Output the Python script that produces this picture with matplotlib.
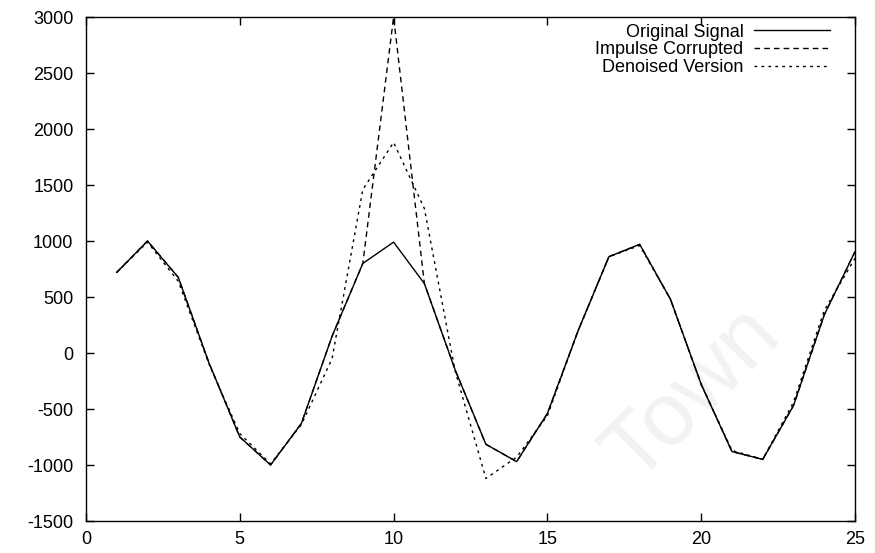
import numpy as np
import matplotlib
matplotlib.use('Agg')
import matplotlib.pyplot as plt

plt.rcParams['font.family'] = ['Liberation Sans', 'DejaVu Sans']
plt.rcParams['axes.unicode_minus'] = False

# samples 1..25
n = list(range(1, 26))
original = [720, 1000, 675, -90, -750, -1000, -630, 150, 800, 990, 620, -150,
            -815, -970, -540, 200, 860, 970, 480, -280, -880, -950, -470, 340, 905]
corrupted = [720, 1000, 675, -90, -750, -1000, -630, 150, 800, 3000, 620, -150,
             -815, -970, -540, 200, 860, 970, 480, -280, -880, -950, -470, 340, 905]
denoised = [720, 990, 640, -100, -720, -990, -640, -50, 1460, 1880, 1290, -160,
            -1120, -930, -560, 200, 860, 960, 480, -280, -870, -950, -440, 380, 845]

XTICKS = [0, 5, 10, 15, 20, 25]
YTICKS = [-1500, -1000, -500, 0, 500, 1000, 1500, 2000, 2500, 3000]

fig = plt.figure(figsize=(8.75, 5.53), dpi=100)
ax = fig.add_axes([86 / 875, 1 - 521 / 553, (855 - 86) / 875, (521 - 17) / 553])

ax.plot(n, original, color='black', lw=1.0, label='Original Signal')
ax.plot(n, corrupted, color='black', lw=1.0, ls=(0, (4, 3)), label='Impulse Corrupted')
ax.plot(n, denoised, color='black', lw=1.0, ls=(0, (2, 3)), label='Denoised Version')

ax.set_xlim(0, 25)
ax.set_ylim(-1500, 3000)
ax.set_xticks(XTICKS)
ax.set_yticks(YTICKS)
ax.tick_params(direction='in', length=6, width=1, top=True, right=True,
               labelsize=13)
ax.tick_params(axis='y', pad=9)
ax.tick_params(axis='x', pad=7)
for s in ax.spines.values():
    s.set_linewidth(1.0)

ax.legend(loc='upper right', frameon=False, markerfirst=False, fontsize=13,
          handlelength=4.2, handletextpad=0.6, labelspacing=0.05,
          borderaxespad=0.3, bbox_to_anchor=(0.984, 1.012))

# faint scan watermark
ax.text(0.79, 0.25, 'Town', transform=ax.transAxes, fontsize=64,
        color='#f2f2f2', rotation=45, ha='center', va='center', zorder=-1)

fig.savefig('out.png', dpi=100)
